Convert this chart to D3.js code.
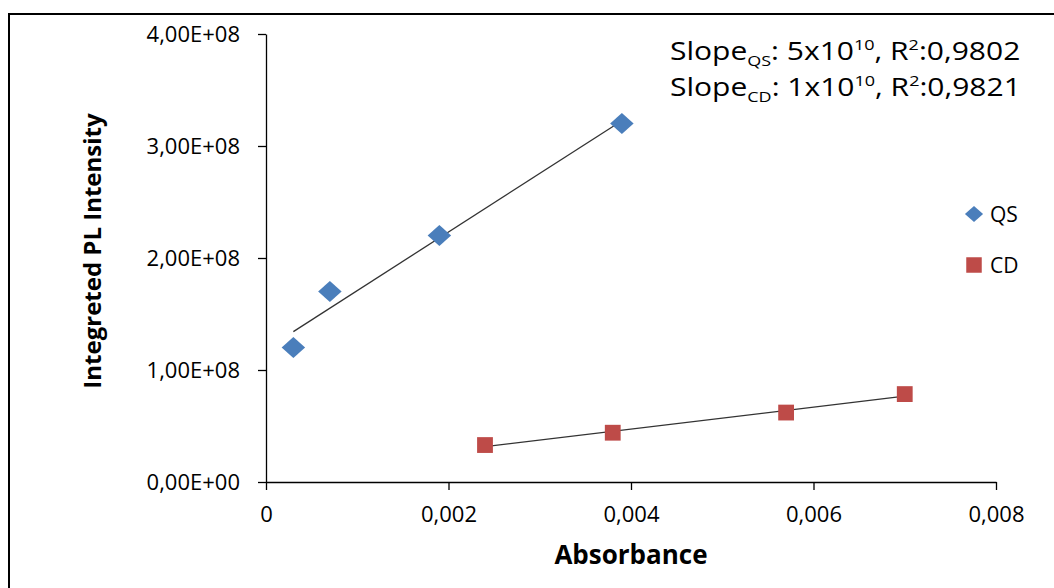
<!DOCTYPE html>
<html>
<head>
<meta charset="utf-8">
<script src="https://cdn.jsdelivr.net/npm/d3@7"></script>
<style>
  body { margin: 0; background: #fff; }
  svg { display: block; }
  text { font-family: "Open Sans", sans-serif; fill: #000; }
</style>
</head>
<body>
<div id="chart"></div>
<script>
// data
const qsAbs = [0.0003, 0.0007, 0.0019, 0.0039];
const qsPL = [1.2e8, 1.7e8, 2.2e8, 3.2e8];
const cdAbs = [0.0024, 0.0038, 0.0057, 0.0070];
const cdPL = [3.3e7, 4.4e7, 6.2e7, 7.85e7];
const xTicks = [0, 0.002, 0.004, 0.006, 0.008];
const yTicks = [0, 1e8, 2e8, 3e8, 4e8];
const seriesNames = ["QS", "CD"];
const seriesColors = ["#4a7ebb", "#be4b48"];

const width = 1054, height = 588;
const plotLeft = 266, plotRight = 996, plotTop = 34, plotBottom = 482;

const svg = d3.select("#chart").append("svg")
    .attr("width", width)
    .attr("height", height);

// outer frame (only top and left edges are in view)
svg.append("path")
    .attr("d", "M9,588 V14 H1054")
    .attr("fill", "none")
    .attr("stroke", "#000")
    .attr("stroke-width", 2);

const x = d3.scaleLinear().domain([0, 0.008]).range([plotLeft, plotRight]);
const y = d3.scaleLinear().domain([0, 4e8]).range([plotBottom, plotTop]);

const fmtX = d => d === 0 ? "0" : d3.format(".3f")(d).replace(".", ",");
const fmtY = d => {
    if (d === 0) return "0,00E+00";
    const e = Math.floor(Math.log10(d));
    const m = d / Math.pow(10, e);
    return m.toFixed(2).replace(".", ",") + "E+" + String(e).padStart(2, "0");
};

const xAxis = svg.append("g")
    .attr("transform", `translate(0,${plotBottom})`)
    .call(d3.axisBottom(x).tickValues(xTicks).tickFormat(fmtX).tickSize(8).tickSizeOuter(0));
xAxis.selectAll("text").attr("dy", null).attr("y", 40).style("font-size", "22px");

const yAxis = svg.append("g")
    .attr("transform", `translate(${plotLeft},0)`)
    .call(d3.axisLeft(y).tickValues(yTicks).tickFormat(fmtY).tickSize(8).tickSizeOuter(0));
yAxis.selectAll("text").attr("x", -26).style("font-size", "22px");

svg.selectAll(".domain, .tick line").attr("stroke", "#000").attr("stroke-width", 1.3);

// least-squares trend lines
function fit(xs, ys) {
    const mx = d3.mean(xs), my = d3.mean(ys);
    const sxy = d3.sum(xs, (v, i) => (v - mx) * (ys[i] - my));
    const sxx = d3.sum(xs, v => (v - mx) * (v - mx));
    const b = sxy / sxx;
    return v => my + b * (v - mx);
}

const line = d3.line().x(d => x(d[0])).y(d => y(d[1]));

[[qsAbs, qsPL], [cdAbs, cdPL]].forEach(([xs, ys]) => {
    const f = fit(xs, ys);
    const ends = d3.extent(xs).map(v => [v, f(v)]);
    svg.append("path")
        .datum(ends)
        .attr("d", line)
        .attr("stroke", "#333")
        .attr("stroke-width", 1.3)
        .attr("fill", "none");
});

const qsData = qsAbs.map((v, i) => [v, qsPL[i]]);
const cdData = cdAbs.map((v, i) => [v, cdPL[i]]);

svg.selectAll(".qs")
    .data(qsData)
    .enter().append("path")
    .attr("class", "qs")
    .attr("d", d3.symbol().type(d3.symbolSquare).size(220))
    .attr("transform", d => `translate(${x(d[0])},${y(d[1])}) scale(1.12,1) rotate(45)`)
    .attr("fill", seriesColors[0]);

svg.selectAll(".cd")
    .data(cdData)
    .enter().append("path")
    .attr("class", "cd")
    .attr("d", d3.symbol().type(d3.symbolSquare).size(250))
    .attr("transform", d => `translate(${x(d[0])},${y(d[1])})`)
    .attr("fill", seriesColors[1]);

// legend
const legend = svg.append("g");
seriesNames.forEach((name, i) => {
    const ly = 214 + i * 51;
    legend.append("path")
        .attr("d", d3.symbol().type(d3.symbolSquare).size(i === 0 ? 125 : 240))
        .attr("transform", `translate(974,${ly})` + (i === 0 ? " scale(1.15,1) rotate(45)" : ""))
        .attr("fill", seriesColors[i]);
    legend.append("text")
        .attr("x", 990)
        .attr("y", ly)
        .attr("dy", "0.36em")
        .style("font-size", "21px")
        .text(name);
});

// axis titles
svg.append("text")
    .attr("x", 631)
    .attr("y", 564)
    .attr("text-anchor", "middle")
    .style("font-size", "26px")
    .style("font-weight", "bold")
    .text("Absorbance");

svg.append("text")
    .attr("transform", "translate(101,251) rotate(-90)")
    .attr("text-anchor", "middle")
    .style("font-size", "24px")
    .style("font-weight", "bold")
    .text("Integreted PL Intensity");

// slope annotation
const notes = [
    ["QS", "5", "0,9802"],
    ["CD", "1", "0,9821"]
];
notes.forEach((n, i) => {
    const t = svg.append("text")
        .attr("transform", `translate(670,${60 + i * 36}) scale(1.2,1)`)
        .style("font-size", "25px");
    t.append("tspan").text("Slope");
    t.append("tspan").attr("dy", 6).style("font-size", "15px").text(n[0]);
    t.append("tspan").attr("dy", -6).text(": " + n[1] + "x10");
    t.append("tspan").attr("dy", -10).style("font-size", "15px").text("10");
    t.append("tspan").attr("dy", 10).text(", R");
    t.append("tspan").attr("dy", -10).style("font-size", "15px").text("2");
    t.append("tspan").attr("dy", 10).text(":" + n[2]);
});
</script>
</body>
</html>
